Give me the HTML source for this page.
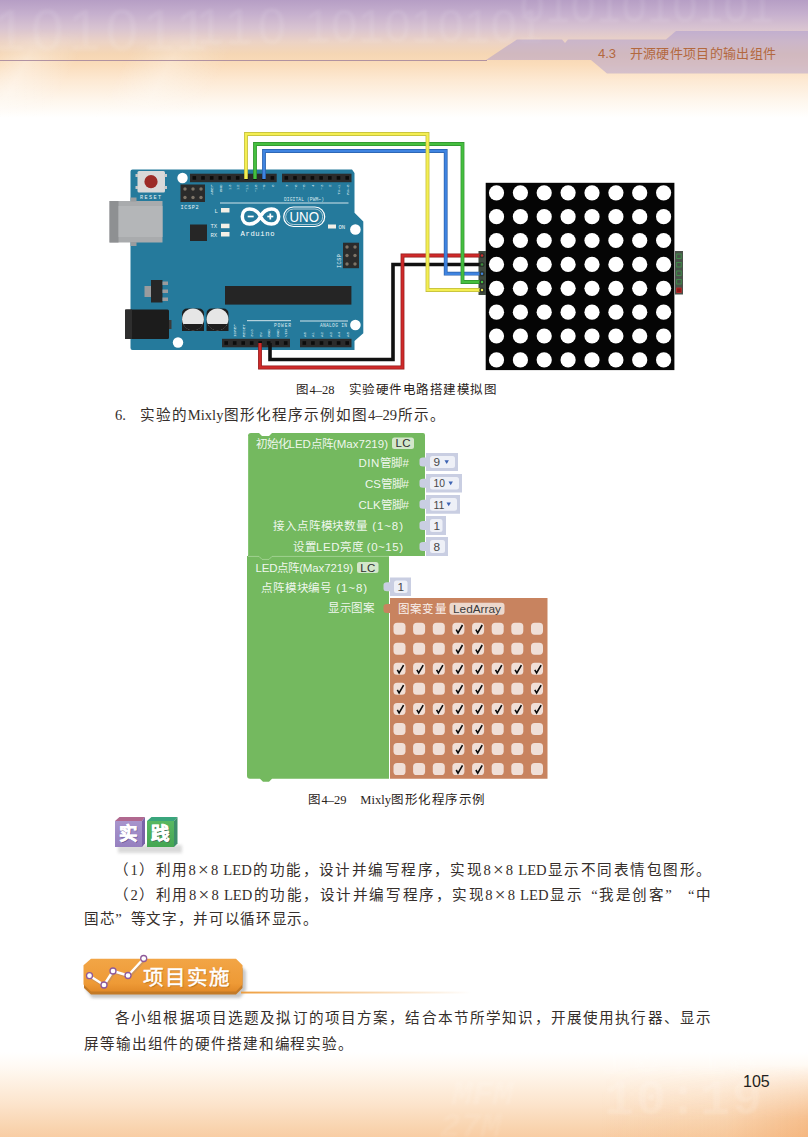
<!DOCTYPE html>
<html lang="zh-CN">
<head>
<meta charset="utf-8">
<title>4.3 开源硬件项目的输出组件</title>
<style>
*{margin:0;padding:0;box-sizing:border-box}
html,body{width:808px;height:1137px;background:#fff;overflow:hidden}
body{font-family:"Liberation Serif",serif;color:#231f20}
#page{position:relative;width:808px;height:1137px;overflow:hidden;background:#fff}
.abs{position:absolute}
/* header */
#hdr{left:0;top:0;width:808px;height:130px;background:linear-gradient(to bottom,#b69ec5 0px,#c6b0ce 14px,#d8c3d1 28px,#ecd3c5 42px,#f5d6b4 54px,#fadcba 64px,#fde9d3 80px,#fef6ec 100px,#fff 118px)}
#hdrglow{left:0;top:30px;width:420px;height:90px;background:linear-gradient(118deg,rgba(255,255,255,0) 0,rgba(255,255,255,.38) 9%,rgba(255,255,255,0) 20%,rgba(255,255,255,0) 30%,rgba(255,255,255,.3) 40%,rgba(255,255,255,0) 52%,rgba(255,255,255,0) 100%);-webkit-mask-image:linear-gradient(to bottom,transparent 0,#000 35%,#000 70%,transparent 100%);mask-image:linear-gradient(to bottom,transparent 0,#000 35%,#000 70%,transparent 100%)}
#hdrline{left:0;top:59.6px;width:487px;height:1.1px;background:#a98a9d;opacity:.9}
#hdrtxt{left:598px;top:45px;width:178px;font:13px/18px "Liberation Sans",sans-serif;color:#b3683f;white-space:nowrap;text-align:justify;text-align-last:justify}
/* footer */
#ftr{left:0;top:1052px;width:808px;height:85px;overflow:hidden;background:linear-gradient(to bottom,#fff 0px,#fffaf4 14px,#fef1e3 30px,#fce4cc 52px,#f9d5b1 74px,#f8cda4 85px)}
#ftr i{position:absolute;font-style:normal;font-family:"Liberation Mono",monospace;color:#fff;opacity:.13;white-space:nowrap;font-weight:bold;filter:blur(1.2px)}
#pgno{left:743px;top:1073px;font:16px/18px "Liberation Sans",sans-serif;color:#231f20}
/* text lines */
.ln{font-family:"Liberation Sans",sans-serif;position:absolute;white-space:nowrap;text-align:justify;text-align-last:justify;font-size:14.6px;line-height:20px;color:#352e2b}
.r{font-family:"Liberation Serif",serif}
.q{font-family:"Liberation Serif",serif;display:inline-block;width:1em;text-align:center;text-align-last:center}
.x{font-family:"Liberation Serif",serif;display:inline-block;width:.8em;text-align:center;text-align-last:center;font-size:1.3em;line-height:0;vertical-align:-0.04em}
.cap{font-family:"Liberation Sans",sans-serif;position:absolute;white-space:nowrap;text-align:justify;text-align-last:justify;font-size:12.5px;line-height:16px;color:#2a2320}
.cube{-webkit-text-stroke:.5px #fff;font:bold 18.5px/22px "Liberation Sans",sans-serif;text-align:center;white-space:nowrap;text-shadow:1px 1px 0 rgba(70,50,110,.55)}
#proj{-webkit-text-stroke:.45px #fff;font:normal 20.5px/26px "Liberation Sans",sans-serif;color:#fff;white-space:nowrap;text-align:justify;text-align-last:justify;text-shadow:0.5px 1px 1px rgba(150,90,20,.6)}
</style>
</head>
<body>
<div id="page">
<div id="hdr" class="abs"></div>
<svg class="abs" style="left:0;top:0" width="808" height="130" viewBox="0 0 808 130" font-family="Liberation Sans, sans-serif">
  <g fill="#fff" opacity=".09" font-size="58" letter-spacing="5" style="filter:blur(1.5px)"><text x="-6" y="50">101011</text><text x="196" y="44" font-size="50">110</text><text x="305" y="42" font-size="46" letter-spacing="1">101010101</text><text x="520" y="22" font-size="44" letter-spacing="1">0101010101</text></g>
  <polygon points="486,60 517,39.400 562,39.400 565,43 568,39.400 666,39.400 676,31 808,31 808,73.500 607,73.500 591,60" fill="#9c8ccf" opacity=".40"/>
</svg>
<div id="hdrglow" class="abs"></div>
<div id="hdrline" class="abs"></div>
<div id="hdrtxt" class="abs">4.3　开源硬件项目的输出组件</div>

<div id="ftr" class="abs"><div class="abs" style="left:600px;top:0;width:208px;height:85px;background:linear-gradient(to right,rgba(243,165,95,0) 0,rgba(243,165,95,.12) 60%,rgba(240,150,75,.4) 100%);-webkit-mask-image:linear-gradient(to bottom,transparent 15%,#000 80%);mask-image:linear-gradient(to bottom,transparent 15%,#000 80%)"></div><i style="left:604px;top:24px;font-size:50px;line-height:50px;letter-spacing:2px">10:19</i><i style="left:600px;top:-16px;font-size:50px;line-height:50px;letter-spacing:2px;opacity:.07">10:18</i><i style="left:452px;top:26px;font-size:34px;line-height:34px;opacity:.1;transform:skewX(-12deg)">MFM</i><i style="left:440px;top:58px;font-size:34px;line-height:34px;opacity:.08;transform:skewX(-12deg)">27M</i></div>
<div id="pgno" class="abs">105</div>
<!-- FIGURE 4-28 -->
<svg class="abs" style="left:100px;top:120px" width="608" height="270" viewBox="100 120 608 270" font-family="Liberation Mono, monospace">
  <!-- board -->
  <path d="M132.5,169.5 H352 L354.5,173 V212.8 L363.3,221.6 V333.3 L354.5,341 V350 H132.5 Q130.5,350 130.5,348 V171.5 Q130.5,169.5 132.5,169.5Z" fill="#257a9c"/>
  <!-- usb -->
  <rect x="109.5" y="201" width="53" height="41.5" fill="#a9abad"/>
  <rect x="109.5" y="201" width="9" height="41.5" fill="#8e9092"/>
  <rect x="118.5" y="206" width="44" height="31" fill="#b4b6b8"/>
  <rect x="130.5" y="197.500" width="6" height="4" fill="#9a9c9e"/>
  <rect x="130.500" y="242" width="6" height="4" fill="#9a9c9e"/>
  <!-- reset -->
  <rect x="137.5" y="171" width="27.5" height="21.5" rx="1.5" fill="#d9d9d9"/>
  <rect x="135.5" y="174" width="2.5" height="3" fill="#c8c8c8"/><rect x="135.5" y="186" width="2.5" height="3" fill="#c8c8c8"/>
  <rect x="164.5" y="174" width="2.5" height="3" fill="#c8c8c8"/><rect x="164.5" y="186" width="2.5" height="3" fill="#c8c8c8"/>
  <circle cx="151" cy="181.7" r="6.6" fill="#9c2b27"/>
  <text x="140" y="198.500" font-size="5.2" fill="#e8f2f5" textLength="21">RESET</text>
  <!-- mount holes -->
  <circle cx="182.5" cy="178" r="5.2" fill="#fff"/>
  <circle cx="178" cy="342.5" r="5.2" fill="#fff"/>
  <circle cx="355.400" cy="229.5" r="5.300" fill="#fff"/>
  <circle cx="355.400" cy="325" r="5.300" fill="#fff"/>
  <!-- headers -->
  <g fill="#2b2b2b">
    <rect x="190" y="173.700" width="86.700" height="8.5"/>
    <rect x="282" y="173.700" width="69.5" height="8.5"/>
    <rect x="222" y="338.800" width="68" height="8.5"/>
    <rect x="300" y="338.800" width="51.5" height="8.5"/>
  </g>
  <g fill="#0c0c0c"><rect x="192.5" y="176.1" width="3.6" height="3.6"/><rect x="201.2" y="176.1" width="3.6" height="3.6"/><rect x="209.9" y="176.1" width="3.6" height="3.6"/><rect x="218.5" y="176.1" width="3.6" height="3.6"/><rect x="227.2" y="176.1" width="3.6" height="3.6"/><rect x="235.9" y="176.1" width="3.6" height="3.6"/><rect x="244.6" y="176.1" width="3.6" height="3.6"/><rect x="253.2" y="176.1" width="3.6" height="3.6"/><rect x="261.9" y="176.1" width="3.6" height="3.6"/><rect x="270.6" y="176.1" width="3.6" height="3.6"/><rect x="284.5" y="176.1" width="3.6" height="3.6"/><rect x="293.2" y="176.1" width="3.6" height="3.6"/><rect x="301.9" y="176.1" width="3.6" height="3.6"/><rect x="310.6" y="176.1" width="3.6" height="3.6"/><rect x="319.3" y="176.1" width="3.6" height="3.6"/><rect x="328.0" y="176.1" width="3.6" height="3.6"/><rect x="336.7" y="176.1" width="3.6" height="3.6"/><rect x="345.4" y="176.1" width="3.6" height="3.6"/><rect x="224.4" y="341.2" width="3.6" height="3.6"/><rect x="232.9" y="341.2" width="3.6" height="3.6"/><rect x="241.4" y="341.2" width="3.6" height="3.6"/><rect x="249.9" y="341.2" width="3.6" height="3.6"/><rect x="258.4" y="341.2" width="3.6" height="3.6"/><rect x="266.9" y="341.2" width="3.6" height="3.6"/><rect x="275.4" y="341.2" width="3.6" height="3.6"/><rect x="283.9" y="341.2" width="3.6" height="3.6"/><rect x="302.5" y="341.2" width="3.6" height="3.6"/><rect x="311.1" y="341.2" width="3.6" height="3.6"/><rect x="319.7" y="341.2" width="3.6" height="3.6"/><rect x="328.2" y="341.2" width="3.6" height="3.6"/><rect x="336.8" y="341.2" width="3.6" height="3.6"/><rect x="345.4" y="341.2" width="3.6" height="3.6"/></g>
  <!-- ICSP2 -->
  <rect x="180.500" y="184.5" width="24.500" height="17.500" fill="#2b2b2b"/>
  <g fill="#7d7468"><circle cx="185" cy="189" r="1.700"/><circle cx="193" cy="189" r="1.700"/><circle cx="201" cy="189" r="1.700"/><circle cx="185" cy="197.500" r="1.700"/><circle cx="193" cy="197.500" r="1.700"/><circle cx="201" cy="197.500" r="1.700"/></g>
  <text x="180.500" y="208.500" font-size="5.2" fill="#e8f2f5" textLength="18">ICSP2</text>
  <!-- ICSP right -->
  <rect x="343" y="242.700" width="16" height="25.5" fill="#2b2b2b"/>
  <g fill="#7d7468"><circle cx="347" cy="247" r="1.700"/><circle cx="355" cy="247" r="1.700"/><circle cx="347" cy="255.5" r="1.700"/><circle cx="355" cy="255.5" r="1.700"/><circle cx="347" cy="264" r="1.700"/><circle cx="355" cy="264" r="1.700"/></g>
  <text transform="translate(341,268) rotate(-90)" font-size="5.2" fill="#e8f2f5" textLength="14">ICSP</text>
  <!-- small chip -->
  <rect x="190" y="224.500" width="17" height="16.500" fill="#262626"/>
  <!-- LEDs -->
  <g fill="#f3efe6"><rect x="221" y="208" width="8.5" height="4.5"/><rect x="221" y="223.700" width="8.5" height="4.5"/><rect x="221" y="232" width="8.5" height="4.5"/><rect x="328" y="224.5" width="8" height="4"/></g>
  <g font-size="5.6" fill="#e8f2f5"><text x="214.500" y="212.500">L</text><text x="210.500" y="228.200">TX</text><text x="210.500" y="236.700">RX</text><text x="338.500" y="228.600">ON</text></g>
  <!-- silk lines -->
  <g stroke="#e8f2f5" stroke-width="0.900" fill="none">
    <path d="M220,203 H348.500"/><path d="M247,320.700 H291"/><path d="M300,321 H348"/>
  </g>
  <g font-size="4.600" fill="#dcebf0">
    <text x="284" y="200.500" textLength="40">DIGITAL (PWM~)</text>
    <text x="274" y="326.500" textLength="17">POWER</text>
    <text x="320" y="326.500" textLength="27">ANALOG IN</text>
  </g>
  <g font-size="4.300" fill="#d5e6ec"><text transform="translate(213.2,184.5) rotate(-90)" text-anchor="end">AREF</text><text transform="translate(221.8,184.5) rotate(-90)" text-anchor="end">GND</text><text transform="translate(230.5,184.5) rotate(-90)" text-anchor="end">13</text><text transform="translate(239.2,184.5) rotate(-90)" text-anchor="end">12</text><text transform="translate(247.9,184.5) rotate(-90)" text-anchor="end">~11</text><text transform="translate(256.5,184.5) rotate(-90)" text-anchor="end">~10</text><text transform="translate(265.2,184.5) rotate(-90)" text-anchor="end">~9</text><text transform="translate(273.9,184.5) rotate(-90)" text-anchor="end">8</text><text transform="translate(287.8,184.5) rotate(-90)" text-anchor="end">7</text><text transform="translate(296.5,184.5) rotate(-90)" text-anchor="end">~6</text><text transform="translate(305.2,184.5) rotate(-90)" text-anchor="end">~5</text><text transform="translate(313.9,184.5) rotate(-90)" text-anchor="end">4</text><text transform="translate(322.6,184.5) rotate(-90)" text-anchor="end">~3</text><text transform="translate(331.3,184.5) rotate(-90)" text-anchor="end">2</text><text transform="translate(340.0,184.5) rotate(-90)" text-anchor="end">TX&#8594;1</text><text transform="translate(348.7,184.5) rotate(-90)" text-anchor="end">RX&#8592;0</text><text transform="translate(236.2,337) rotate(-90)" text-anchor="start">IOREF</text><text transform="translate(244.8,337) rotate(-90)" text-anchor="start">RESET</text><text transform="translate(253.2,337) rotate(-90)" text-anchor="start">3V3</text><text transform="translate(261.8,337) rotate(-90)" text-anchor="start">5V</text><text transform="translate(270.2,337) rotate(-90)" text-anchor="start">GND</text><text transform="translate(278.8,337) rotate(-90)" text-anchor="start">GND</text><text transform="translate(287.2,337) rotate(-90)" text-anchor="start">VIN</text><text transform="translate(305.8,337) rotate(-90)" text-anchor="start">A0</text><text transform="translate(314.4,337) rotate(-90)" text-anchor="start">A1</text><text transform="translate(323.0,337) rotate(-90)" text-anchor="start">A2</text><text transform="translate(331.5,337) rotate(-90)" text-anchor="start">A3</text><text transform="translate(340.1,337) rotate(-90)" text-anchor="start">A4</text><text transform="translate(348.7,337) rotate(-90)" text-anchor="start">A5</text></g>
  <!-- logo -->
  <g fill="none" stroke="#fff" stroke-width="3.500">
    <path d="M260.500,216.500 C255.500,206.500 242.300,206.500 242.300,216.500 C242.300,226.500 255.500,226.500 260.500,216.500 C265.500,206.500 278.700,206.500 278.700,216.500 C278.700,226.500 265.500,226.500 260.500,216.500Z"/>
  </g>
  <g stroke="#fff" stroke-width="1.700"><path d="M247.700,216.500 H253.700"/><path d="M267.300,216.500 H273.300"/><path d="M270.300,213.500 V219.500"/></g>
  <text x="240.500" y="235.500" font-size="7.200" fill="#fff" textLength="34" font-family="Liberation Mono, monospace">Arduino</text>
  <rect x="283.700" y="207" width="41" height="19.500" rx="9.750" fill="none" stroke="#fff" stroke-width="1.200"/>
  <rect x="285.700" y="209" width="37" height="15.500" rx="7.750" fill="none" stroke="#fff" stroke-width="0.600"/>
  <text x="289.500" y="222.300" font-size="15" fill="#fff" textLength="29.500" lengthAdjust="spacingAndGlyphs" font-family="Liberation Sans, sans-serif">UNO</text>
  <!-- main chip -->
  <rect x="225" y="286" width="126.400" height="18.600" fill="#252525"/>
  <!-- regulator -->
  <rect x="144.500" y="286" width="7" height="11" fill="#9a9c9e"/>
  <rect x="151" y="280" width="11.500" height="22.500" fill="#262626"/>
  <g fill="#9a9c9e"><rect x="162.500" y="281.500" width="5.500" height="3.500"/><rect x="162.500" y="289.500" width="5.500" height="3.500"/><rect x="162.500" y="297.500" width="5.500" height="3.500"/></g>
  <!-- power jack -->
  <rect x="125" y="309.500" width="44" height="29.500" rx="1.500" fill="#1c1c1c"/>
  <rect x="125" y="309.500" width="7" height="29.500" fill="#2e2e2e"/>
  <rect x="169" y="320" width="2.500" height="9" fill="#3a3a3a"/>
  <!-- caps -->
  <g>
    <path d="M182,331 V314 Q182,308.500 187.500,308.500 H198.500 Q204,308.500 204,314 V331Z" fill="#1e1e1e"/>
    <circle cx="193" cy="319.300" r="10.900" fill="#e6e6e6"/>
    <path d="M183.100,324 A10.900,10.900 0 0 0 202.900,324Z" fill="#1e1e1e"/>
    <path d="M206.500,331 V314 Q206.500,308.500 212,308.500 H223 Q228.500,308.500 228.500,314 V331Z" fill="#1e1e1e"/>
    <circle cx="217.500" cy="319.300" r="10.900" fill="#e6e6e6"/>
    <path d="M207.600,324 A10.900,10.900 0 0 0 227.400,324Z" fill="#1e1e1e"/>
  </g>
  <!-- LED matrix -->
  <rect x="485.700" y="182.800" width="188.700" height="187.300" fill="#050505"/>
  <g fill="#fff"><circle cx="496.5" cy="192.8" r="7.6"/><circle cx="520.4" cy="192.8" r="7.6"/><circle cx="544.2" cy="192.8" r="7.6"/><circle cx="568.1" cy="192.8" r="7.6"/><circle cx="592.0" cy="192.8" r="7.6"/><circle cx="615.9" cy="192.8" r="7.6"/><circle cx="639.7" cy="192.8" r="7.6"/><circle cx="663.6" cy="192.8" r="7.6"/><circle cx="496.5" cy="216.7" r="7.6"/><circle cx="520.4" cy="216.7" r="7.6"/><circle cx="544.2" cy="216.7" r="7.6"/><circle cx="568.1" cy="216.7" r="7.6"/><circle cx="592.0" cy="216.7" r="7.6"/><circle cx="615.9" cy="216.7" r="7.6"/><circle cx="639.7" cy="216.7" r="7.6"/><circle cx="663.6" cy="216.7" r="7.6"/><circle cx="496.5" cy="240.5" r="7.6"/><circle cx="520.4" cy="240.5" r="7.6"/><circle cx="544.2" cy="240.5" r="7.6"/><circle cx="568.1" cy="240.5" r="7.6"/><circle cx="592.0" cy="240.5" r="7.6"/><circle cx="615.9" cy="240.5" r="7.6"/><circle cx="639.7" cy="240.5" r="7.6"/><circle cx="663.6" cy="240.5" r="7.6"/><circle cx="496.5" cy="264.4" r="7.6"/><circle cx="520.4" cy="264.4" r="7.6"/><circle cx="544.2" cy="264.4" r="7.6"/><circle cx="568.1" cy="264.4" r="7.6"/><circle cx="592.0" cy="264.4" r="7.6"/><circle cx="615.9" cy="264.4" r="7.6"/><circle cx="639.7" cy="264.4" r="7.6"/><circle cx="663.6" cy="264.4" r="7.6"/><circle cx="496.5" cy="288.3" r="7.6"/><circle cx="520.4" cy="288.3" r="7.6"/><circle cx="544.2" cy="288.3" r="7.6"/><circle cx="568.1" cy="288.3" r="7.6"/><circle cx="592.0" cy="288.3" r="7.6"/><circle cx="615.9" cy="288.3" r="7.6"/><circle cx="639.7" cy="288.3" r="7.6"/><circle cx="663.6" cy="288.3" r="7.6"/><circle cx="496.5" cy="312.2" r="7.6"/><circle cx="520.4" cy="312.2" r="7.6"/><circle cx="544.2" cy="312.2" r="7.6"/><circle cx="568.1" cy="312.2" r="7.6"/><circle cx="592.0" cy="312.2" r="7.6"/><circle cx="615.9" cy="312.2" r="7.6"/><circle cx="639.7" cy="312.2" r="7.6"/><circle cx="663.6" cy="312.2" r="7.6"/><circle cx="496.5" cy="336.0" r="7.6"/><circle cx="520.4" cy="336.0" r="7.6"/><circle cx="544.2" cy="336.0" r="7.6"/><circle cx="568.1" cy="336.0" r="7.6"/><circle cx="592.0" cy="336.0" r="7.6"/><circle cx="615.9" cy="336.0" r="7.6"/><circle cx="639.7" cy="336.0" r="7.6"/><circle cx="663.6" cy="336.0" r="7.6"/><circle cx="496.5" cy="359.9" r="7.6"/><circle cx="520.4" cy="359.9" r="7.6"/><circle cx="544.2" cy="359.9" r="7.6"/><circle cx="568.1" cy="359.9" r="7.6"/><circle cx="592.0" cy="359.9" r="7.6"/><circle cx="615.9" cy="359.9" r="7.6"/><circle cx="639.7" cy="359.9" r="7.6"/><circle cx="663.6" cy="359.9" r="7.6"/></g>
  <rect x="478.500" y="251" width="7.500" height="44" fill="#3f4a3f"/>
  <rect x="675" y="251" width="8" height="43.500" fill="#4a524a"/>
  <g fill="none" stroke="#3f9a4a" stroke-width="0.800"><rect x="676.700" y="254" width="4.500" height="4.500"/><rect x="676.700" y="262.500" width="4.500" height="4.500"/><rect x="676.700" y="271" width="4.500" height="4.500"/><rect x="676.700" y="279.500" width="4.500" height="4.500"/></g>
  <rect x="676.700" y="288" width="4.500" height="4.500" fill="#8a1818" stroke="#c62828" stroke-width="0.800"/>
  <!-- wires -->
  <g fill="none" stroke-linejoin="miter" stroke-linecap="butt">
    <path d="M270,343 V359.500 H393 V264.500 H482" stroke="#111" stroke-width="3.600"/>
    <path d="M260,343 V367.500 H402.500 V255.500 H482" stroke="#8f1a1a" stroke-width="3.800"/>
    <path d="M260,343 V367.500 H402.500 V255.500 H482" stroke="#cf2a2a" stroke-width="2.400"/>
    <path d="M264,179 V151 H445.700 V273.700 H482" stroke="#2a5fa8" stroke-width="3.800"/>
    <path d="M264,179 V151 H445.700 V273.700 H482" stroke="#3f84e0" stroke-width="2.400"/>
    <path d="M255,179 V144 H462.500 V282 H482" stroke="#2f8f2f" stroke-width="3.800"/>
    <path d="M255,179 V144 H462.500 V282 H482" stroke="#45bf3f" stroke-width="2.400"/>
    <path d="M246,179 V134 H427.500 V290 H482" stroke="#bdb83a" stroke-width="3.800"/>
    <path d="M246,179 V134 H427.500 V290 H482" stroke="#f4ee52" stroke-width="2.400"/>
  </g>
  <g fill="#2c332c"><circle cx="482" cy="255.500" r="2.600"/><circle cx="482" cy="264.500" r="2.600"/><circle cx="482" cy="273.700" r="2.600"/><circle cx="482" cy="282" r="2.600"/><circle cx="482" cy="290" r="2.600"/></g>
  <g><circle cx="482" cy="255.500" r="1.200" fill="#cf2a2a"/><circle cx="482" cy="264.500" r="1.200" fill="#3c8f3c"/><circle cx="482" cy="273.700" r="1.200" fill="#3f84e0"/><circle cx="482" cy="282" r="1.200" fill="#45bf3f"/><circle cx="482" cy="290" r="1.200" fill="#f4ee52"/></g>
</svg>
<div class="cap" style="left:296px;top:382px;width:201px">图<span class="r">4–28</span>　实验硬件电路搭建模拟图</div>


<!-- MIXLY -->
<svg class="abs" style="left:236px;top:425px" width="330" height="365" viewBox="236 425 330 365" font-family="Liberation Sans, sans-serif">
<path d="M251,433 H259 l3,3 h7 l3,-3 H423 Q425,433 425,435 V556 H248 V436 Q248,433 251,433Z" fill="#74b95f"/>
<path d="M247,556 H389 V778.7 H272 l-3,3 h-6 l-3,-3 H250 Q247,778.7 247,775.7Z" fill="#74b95f"/>
<path d="M248,556.400 H259 l3,3 h7 l3,-3 H389" fill="none" stroke="#a5d596" stroke-width="0.900"/>
<path d="M248.500,436 V555" fill="none" stroke="#8cc97b" stroke-width="0.800"/>
<path d="M426,453 H458 V471 H426 V466.5 h-3 q-3.500,0 -3.500,-2.500 v-4 q0,-2.500 3.500,-2.500 h3Z" fill="#c9cee2"/><rect x="430" y="456" width="25" height="12" rx="2.500" fill="#eef0f7"/><text x="433.5" y="466.2" font-size="11.800" fill="#474747">9</text><path d="M444.5,460.2 h4.400 l-2.200,3.800Z" fill="#3d63b3"/>
<path d="M426,474 H462 V492.5 H426 V487.75 h-3 q-3.500,0 -3.500,-2.500 v-4 q0,-2.500 3.500,-2.500 h3Z" fill="#c9cee2"/><rect x="430" y="477" width="29" height="12.5" rx="2.500" fill="#eef0f7"/><text x="433.5" y="487.45" font-size="11.800" fill="#474747" textLength="11.500" lengthAdjust="spacingAndGlyphs">10</text><path d="M448.5,481.45 h4.400 l-2.200,3.800Z" fill="#3d63b3"/>
<path d="M426,495 H460 V513.7 H426 V508.85 h-3 q-3.500,0 -3.500,-2.500 v-4 q0,-2.500 3.500,-2.500 h3Z" fill="#c9cee2"/><rect x="430" y="498" width="27" height="12.700000000000045" rx="2.500" fill="#eef0f7"/><text x="433.5" y="508.55" font-size="11.800" fill="#474747" textLength="11" lengthAdjust="spacingAndGlyphs">11</text><path d="M446.5,502.55 h4.400 l-2.200,3.800Z" fill="#3d63b3"/>
<path d="M426,516 H446 V535 H426 V530.0 h-3 q-3.500,0 -3.500,-2.500 v-4 q0,-2.500 3.500,-2.500 h3Z" fill="#c9cee2"/><rect x="430" y="519" width="12.5" height="13" rx="2.500" fill="#eef0f7"/><text x="433.5" y="529.7" font-size="11.800" fill="#474747">1</text>
<path d="M426,537 H448 V556 H426 V551.0 h-3 q-3.500,0 -3.500,-2.500 v-4 q0,-2.500 3.500,-2.500 h3Z" fill="#c9cee2"/><rect x="430" y="540" width="15" height="13" rx="2.500" fill="#eef0f7"/><text x="433.5" y="550.7" font-size="11.800" fill="#474747">8</text>
<path d="M390,577.5 H411 V596 H390 V591.25 h-3 q-3.500,0 -3.500,-2.500 v-4 q0,-2.500 3.500,-2.500 h3Z" fill="#c9cee2"/><rect x="394" y="580.5" width="13.5" height="12.5" rx="2.500" fill="#eef0f7"/><text x="397.5" y="590.95" font-size="11.800" fill="#474747">1</text>
<path d="M390,598 H547.500 V778.700 H390 V613 h-3 q-3.500,0 -3.500,-2.500 v-4 q0,-2.500 3.500,-2.500 h3Z" fill="#c8835f"/>
<rect x="392" y="437.500" width="22" height="11.500" rx="2.500" fill="#d3e7cb"/><text x="395.500" y="447.300" font-size="11.500" fill="#2f2f2f" textLength="15">LC</text>
<rect x="357" y="562" width="21.500" height="11" rx="2.500" fill="#d3e7cb"/><text x="360.300" y="571.500" font-size="11.500" fill="#2f2f2f" textLength="15">LC</text>
<rect x="449.500" y="602.800" width="55" height="12" rx="3" fill="#ecd8cd"/><text x="453" y="612.800" font-size="11.800" fill="#3a3a3a" textLength="48">LedArray</text>
<text x="255.5" y="447.5" font-size="11.500" fill="#fff" fill-opacity=".9" textLength="132.5" lengthAdjust="spacing">初始化LED点阵(Max7219)</text>
<text x="358.5" y="466.7" font-size="11.500" fill="#fff" fill-opacity=".9" textLength="50.5" lengthAdjust="spacing">DIN管脚#</text>
<text x="365" y="487.9" font-size="11.500" fill="#fff" fill-opacity=".9" textLength="44" lengthAdjust="spacing">CS管脚#</text>
<text x="358.5" y="508.7" font-size="11.500" fill="#fff" fill-opacity=".9" textLength="50.5" lengthAdjust="spacing">CLK管脚#</text>
<text x="273" y="529.9000000000001" font-size="11.500" fill="#fff" fill-opacity=".9" textLength="130" lengthAdjust="spacing">接入点阵模块数量 (1~8)</text>
<text x="293" y="550.9000000000001" font-size="11.500" fill="#fff" fill-opacity=".9" textLength="110" lengthAdjust="spacing">设置LED亮度 (0~15)</text>
<text x="255.5" y="571.7" font-size="11.500" fill="#fff" fill-opacity=".9" textLength="97.5" lengthAdjust="spacing">LED点阵(Max7219)</text>
<text x="261" y="591.7" font-size="11.500" fill="#fff" fill-opacity=".9" textLength="106" lengthAdjust="spacing">点阵模块编号 (1~8)</text>
<text x="328" y="612.2" font-size="11.500" fill="#fff" fill-opacity=".9" textLength="46" lengthAdjust="spacing">显示图案</text>
<text x="398" y="612.9000000000001" font-size="11.500" fill="#fff" fill-opacity=".9" textLength="47.5" lengthAdjust="spacing">图案变量</text>
<g fill="#f0dfd7"><rect x="393.5" y="622.7" width="12" height="12" rx="3.600"/><rect x="413.1" y="622.7" width="12" height="12" rx="3.600"/><rect x="432.8" y="622.7" width="12" height="12" rx="3.600"/><rect x="452.4" y="622.7" width="12" height="12" rx="3.600"/><rect x="472.1" y="622.7" width="12" height="12" rx="3.600"/><rect x="491.7" y="622.7" width="12" height="12" rx="3.600"/><rect x="511.3" y="622.7" width="12" height="12" rx="3.600"/><rect x="531.0" y="622.7" width="12" height="12" rx="3.600"/><rect x="393.5" y="642.7" width="12" height="12" rx="3.600"/><rect x="413.1" y="642.7" width="12" height="12" rx="3.600"/><rect x="432.8" y="642.7" width="12" height="12" rx="3.600"/><rect x="452.4" y="642.7" width="12" height="12" rx="3.600"/><rect x="472.1" y="642.7" width="12" height="12" rx="3.600"/><rect x="491.7" y="642.7" width="12" height="12" rx="3.600"/><rect x="511.3" y="642.7" width="12" height="12" rx="3.600"/><rect x="531.0" y="642.7" width="12" height="12" rx="3.600"/><rect x="393.5" y="662.8" width="12" height="12" rx="3.600"/><rect x="413.1" y="662.8" width="12" height="12" rx="3.600"/><rect x="432.8" y="662.8" width="12" height="12" rx="3.600"/><rect x="452.4" y="662.8" width="12" height="12" rx="3.600"/><rect x="472.1" y="662.8" width="12" height="12" rx="3.600"/><rect x="491.7" y="662.8" width="12" height="12" rx="3.600"/><rect x="511.3" y="662.8" width="12" height="12" rx="3.600"/><rect x="531.0" y="662.8" width="12" height="12" rx="3.600"/><rect x="393.5" y="682.8" width="12" height="12" rx="3.600"/><rect x="413.1" y="682.8" width="12" height="12" rx="3.600"/><rect x="432.8" y="682.8" width="12" height="12" rx="3.600"/><rect x="452.4" y="682.8" width="12" height="12" rx="3.600"/><rect x="472.1" y="682.8" width="12" height="12" rx="3.600"/><rect x="491.7" y="682.8" width="12" height="12" rx="3.600"/><rect x="511.3" y="682.8" width="12" height="12" rx="3.600"/><rect x="531.0" y="682.8" width="12" height="12" rx="3.600"/><rect x="393.5" y="702.9" width="12" height="12" rx="3.600"/><rect x="413.1" y="702.9" width="12" height="12" rx="3.600"/><rect x="432.8" y="702.9" width="12" height="12" rx="3.600"/><rect x="452.4" y="702.9" width="12" height="12" rx="3.600"/><rect x="472.1" y="702.9" width="12" height="12" rx="3.600"/><rect x="491.7" y="702.9" width="12" height="12" rx="3.600"/><rect x="511.3" y="702.9" width="12" height="12" rx="3.600"/><rect x="531.0" y="702.9" width="12" height="12" rx="3.600"/><rect x="393.5" y="722.9" width="12" height="12" rx="3.600"/><rect x="413.1" y="722.9" width="12" height="12" rx="3.600"/><rect x="432.8" y="722.9" width="12" height="12" rx="3.600"/><rect x="452.4" y="722.9" width="12" height="12" rx="3.600"/><rect x="472.1" y="722.9" width="12" height="12" rx="3.600"/><rect x="491.7" y="722.9" width="12" height="12" rx="3.600"/><rect x="511.3" y="722.9" width="12" height="12" rx="3.600"/><rect x="531.0" y="722.9" width="12" height="12" rx="3.600"/><rect x="393.5" y="742.9" width="12" height="12" rx="3.600"/><rect x="413.1" y="742.9" width="12" height="12" rx="3.600"/><rect x="432.8" y="742.9" width="12" height="12" rx="3.600"/><rect x="452.4" y="742.9" width="12" height="12" rx="3.600"/><rect x="472.1" y="742.9" width="12" height="12" rx="3.600"/><rect x="491.7" y="742.9" width="12" height="12" rx="3.600"/><rect x="511.3" y="742.9" width="12" height="12" rx="3.600"/><rect x="531.0" y="742.9" width="12" height="12" rx="3.600"/><rect x="393.5" y="763.0" width="12" height="12" rx="3.600"/><rect x="413.1" y="763.0" width="12" height="12" rx="3.600"/><rect x="432.8" y="763.0" width="12" height="12" rx="3.600"/><rect x="452.4" y="763.0" width="12" height="12" rx="3.600"/><rect x="472.1" y="763.0" width="12" height="12" rx="3.600"/><rect x="491.7" y="763.0" width="12" height="12" rx="3.600"/><rect x="511.3" y="763.0" width="12" height="12" rx="3.600"/><rect x="531.0" y="763.0" width="12" height="12" rx="3.600"/></g>
<g fill="none" stroke="#0a0a0a" stroke-width="1.600" stroke-linejoin="miter"><path d="M456.2,629.7 l1.800,3.100 l4.500,-7.800"/><path d="M475.9,629.7 l1.800,3.100 l4.500,-7.800"/><path d="M456.2,649.7 l1.800,3.100 l4.500,-7.800"/><path d="M475.9,649.7 l1.800,3.100 l4.500,-7.800"/><path d="M397.3,669.8 l1.800,3.100 l4.500,-7.800"/><path d="M416.9,669.8 l1.800,3.100 l4.500,-7.800"/><path d="M436.6,669.8 l1.800,3.100 l4.500,-7.800"/><path d="M456.2,669.8 l1.800,3.100 l4.500,-7.800"/><path d="M475.9,669.8 l1.800,3.100 l4.500,-7.800"/><path d="M495.5,669.8 l1.800,3.100 l4.500,-7.800"/><path d="M515.1,669.8 l1.800,3.100 l4.500,-7.800"/><path d="M534.8,669.8 l1.800,3.100 l4.500,-7.800"/><path d="M397.3,689.8 l1.800,3.100 l4.500,-7.800"/><path d="M456.2,689.8 l1.800,3.100 l4.500,-7.800"/><path d="M475.9,689.8 l1.800,3.100 l4.500,-7.800"/><path d="M534.8,689.8 l1.800,3.100 l4.500,-7.800"/><path d="M397.3,709.9 l1.800,3.100 l4.500,-7.800"/><path d="M416.9,709.9 l1.800,3.100 l4.500,-7.800"/><path d="M436.6,709.9 l1.800,3.100 l4.500,-7.800"/><path d="M456.2,709.9 l1.800,3.100 l4.500,-7.800"/><path d="M475.9,709.9 l1.800,3.100 l4.500,-7.800"/><path d="M495.5,709.9 l1.800,3.100 l4.500,-7.800"/><path d="M515.1,709.9 l1.800,3.100 l4.500,-7.800"/><path d="M534.8,709.9 l1.800,3.100 l4.500,-7.800"/><path d="M456.2,729.9 l1.800,3.100 l4.500,-7.800"/><path d="M475.9,729.9 l1.800,3.100 l4.500,-7.800"/><path d="M456.2,749.9 l1.800,3.100 l4.500,-7.800"/><path d="M475.9,749.9 l1.800,3.100 l4.500,-7.800"/><path d="M456.2,770.0 l1.800,3.100 l4.500,-7.800"/><path d="M475.9,770.0 l1.800,3.100 l4.500,-7.800"/></g>
</svg>
<div class="cap" style="left:308px;top:792px;width:177px">图<span class="r">4–29</span>　<span class="r">Mixly</span>图形化程序示例</div>

<!-- TEXT -->
<div class="ln" style="left:115px;top:405px;width:330px"><span class="r">6.</span><span style="display:inline-block;width:13px"></span>实验的<span class="r">Mixly</span>图形化程序示例如图<span class="r">4–29</span>所示。</div>
<svg class="abs" style="left:105px;top:810px" width="90" height="50" viewBox="105 810 90 50">
  <defs>
    <linearGradient id="gp" x1="0" y1="0" x2="0" y2="1"><stop offset="0" stop-color="#a895cc"/><stop offset="1" stop-color="#9680bf"/></linearGradient>
    <linearGradient id="gg" x1="0" y1="0" x2="0" y2="1"><stop offset="0" stop-color="#58b862"/><stop offset="1" stop-color="#45a652"/></linearGradient>
    <filter id="bl" x="-20%" y="-50%" width="140%" height="200%"><feGaussianBlur stdDeviation="1.600"/></filter>
  </defs>
  <rect x="118" y="845" width="64" height="8" fill="#bdbdbd" opacity=".55" filter="url(#bl)"/>
  <polygon points="115,821 119.500,817 145,817 142,821" fill="#b0688f"/>
  <polygon points="142,821 145,817 145,843.500 142,847" fill="#7a63a8"/>
  <rect x="115" y="821" width="27" height="26" fill="url(#gp)"/>
  <polygon points="147,821 151.500,817 177.500,817 174,821" fill="#39a57c"/>
  <polygon points="174,821 177.500,817 177.500,843.500 174,847" fill="#3d8d6a"/>
  <rect x="147" y="821" width="27" height="26" fill="url(#gg)"/>
</svg>
<div class="abs cube" style="left:116px;top:823px;width:25px;color:#fff">实</div>
<div class="abs cube" style="left:148px;top:823px;width:25px;color:#fff">践</div>
<div class="ln" style="left:114px;top:860px;width:597px">（<span class="r">1</span>）利用<span class="r">8</span><span class="x">×</span><span class="r">8 LED</span>的功能，设计并编写程序，实现<span class="r">8</span><span class="x">×</span><span class="r">8 LED</span>显示不同表情包图形。</div>
<div class="ln" style="left:114px;top:885px;width:597px">（<span class="r">2</span>）利用<span class="r">8</span><span class="x">×</span><span class="r">8 LED</span>的功能，设计并编写程序，实现<span class="r">8</span><span class="x">×</span><span class="r">8 LED</span>显示<span class="q" style="text-align-last:right">“</span>我是创客<span class="q" style="text-align-last:left">”</span><span class="q" style="text-align-last:right">“</span>中</div>
<div class="ln" style="left:84px;top:909px;width:234px">国芯<span class="q" style="text-align-last:left">”</span>等文字，并可以循环显示。</div>
<svg class="abs" style="left:75px;top:945px" width="400" height="60" viewBox="75 945 400 60">
  <defs>
    <linearGradient id="go" x1="0" y1="0" x2="0" y2="1"><stop offset="0" stop-color="#f2a546"/><stop offset=".75" stop-color="#ee9a36"/><stop offset="1" stop-color="#e28a28"/></linearGradient>
    <linearGradient id="gl" x1="0" y1="0" x2="1" y2="0"><stop offset="0" stop-color="#ee9a36"/><stop offset="1" stop-color="#ee9a36" stop-opacity="0"/></linearGradient>
    <filter id="bl2" x="-10%" y="-50%" width="120%" height="200%"><feGaussianBlur stdDeviation="1.500"/></filter>
  </defs>
  <path d="M92,963 H238 L246,971 V990 L240,998 H92 L86,990 V971Z" fill="#9a9a9a" opacity=".55" filter="url(#bl2)"/>
  <path d="M91,962 H236 L242.500,968.500 V988 L236,994.500 H91 L84,988 V968.500Z" fill="#c47a26"/>
  <path d="M91,958.700 H236 L242.500,965.200 V984.500 L236,991.500 H91 L83.500,984.500 V965.200Z" fill="url(#go)"/>
  <rect x="241" y="991.600" width="230" height="1.900" fill="url(#gl)" opacity=".95"/>
  <polyline points="89.500,975.700 104,985 113,971 128,975.500 143.700,958.500" fill="none" stroke="#9a8080" stroke-width="3.200" opacity=".35" transform="translate(1,1.200)"/>
  <polyline points="89.500,975.700 104,985 113,971 128,975.500 143.700,958.500" fill="none" stroke="#fff" stroke-width="2.400" stroke-linejoin="round"/>
  <g fill="#fff" stroke="#8e5a9a" stroke-width="1.300"><circle cx="89.500" cy="975.700" r="3"/><circle cx="104" cy="985" r="3"/><circle cx="113" cy="971" r="3"/><circle cx="128" cy="975.500" r="3"/><circle cx="143.700" cy="958.500" r="3"/></g>
</svg>
<div class="abs" id="proj" style="left:143px;top:965px;width:86px">项目实施</div>
<div class="ln" style="left:115px;top:1008px;width:596px">各小组根据项目选题及拟订的项目方案，结合本节所学知识，开展使用执行器、显示</div>
<div class="ln" style="left:84px;top:1034px;width:269px">屏等输出组件的硬件搭建和编程实验。</div>

</div>
</body>
</html>
